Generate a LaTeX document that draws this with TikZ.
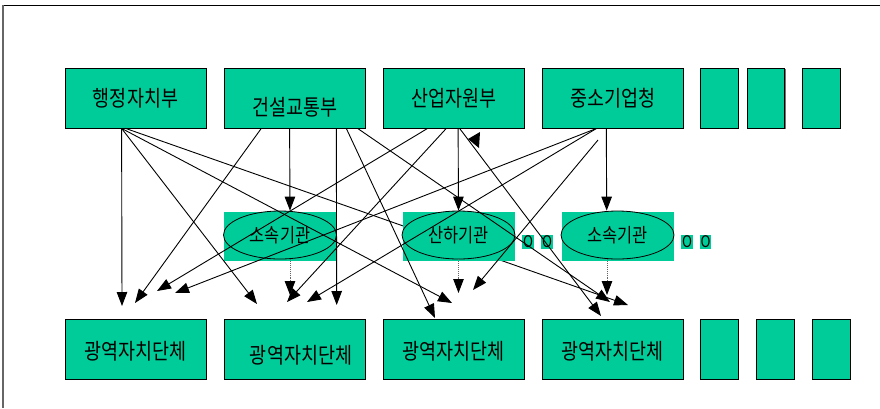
\documentclass[tikz,border=0pt]{standalone}
\usepackage{fontspec}
\setmainfont{Noto Sans CJK KR}[FakeStretch=0.84]
\usetikzlibrary{arrows.meta,shapes.geometric,shadows}

\definecolor{mint}{RGB}{0,204,153}

\tikzset{
  dept/.style={draw=black, fill=mint, line width=0.8pt, minimum width=141pt,
    minimum height=60pt, inner sep=0pt,
    drop shadow={shadow xshift=1pt, shadow yshift=-1.2pt, fill=black!55, opacity=1}},
  blank/.style={dept, minimum width=37.5pt},
  agency/.style={ellipse, draw=black, fill=mint, line width=0.8pt,
    minimum width=113pt, minimum height=48pt, inner sep=0pt,
    font=\fontsize{19.5}{21}\selectfont},
  etc/.style={fill=mint, inner xsep=0.8pt, inner ysep=1.2pt,
    font=\fontsize{16}{16}\selectfont},
  link/.style={-{Triangle[length=14pt,width=10.5pt]}, line width=0.9pt},
  weak/.style={-{Triangle[length=14pt,width=10.5pt,color=black]}, line width=0.9pt,
    densely dotted, draw=black!60}
}

\begin{document}
\begin{tikzpicture}[x=1pt, y=-1pt, font=\fontsize{22}{24}\selectfont]
    \useasboundingbox (0,0) rectangle (880,408);

    % 테두리
    \draw[line width=1.8pt] (2,5.5) -- (880,5.5);
    \draw[black!60, line width=1.6pt] (3,5) -- (3,408);

    % 중앙부처
    \node[dept] (haengjeong) at (135.5,98) {행정자치부};
    \node[dept, label={[yshift=-9pt]center:건설교통부}] (geonseol) at (294.5,98) {};
    \node[dept] (saneop) at (453.5,98) {산업자원부};
    \node[dept] (jungso) at (612.5,98) {중소기업청};
    \foreach \x [count=\i] in {719.5,766,821.5}
        \node[blank] (top\i) at (\x,98) {};

    % 광역자치단체
    \foreach \x/\dx/\dy [count=\i] in {135.5/0/-2, 294.5/6.5/-6, 453.5/0/-2, 612.5/0/-2}
        \node[dept, label={[xshift=\dx pt, yshift=\dy pt]center:광역자치단체}] (gwang\i) at (\x,349) {};
    \foreach \x [count=\i] in {719.3,775.5,831.6}
        \node[blank] (bottom\i) at (\x,349) {};

    % 화살표 끝점
    \coordinate (c1a) at (122,306);
    \coordinate (c1b) at (135,303);
    \coordinate (c1c) at (157,291);
    \coordinate (c1d) at (175,293);
    \coordinate (c2a) at (257,304);
    \coordinate (c2b) at (287,302);
    \coordinate (c2c) at (307,302);
    \coordinate (c2d) at (336.7,305);
    \coordinate (c2s) at (290,295);
    \coordinate (c3a) at (435,318);
    \coordinate (c3b) at (452,303);
    \coordinate (c3c) at (473,290);
    \coordinate (c3s) at (458.5,293);
    \coordinate (c4a) at (601,316);
    \coordinate (c4b) at (610,302);
    \coordinate (c4c) at (628,305);
    \coordinate (c4s) at (607,295);
    \coordinate (q0) at (598,140);

    % 산하기관 뒤로 지나가는 선
    \draw[link] ([xshift=61pt]haengjeong.south west) -- (c4c);

    % 소속기관 / 산하기관
    \foreach \x/\name/\txt in {280/sosok1/소속기관, 458.5/sanha/산하기관, 617.5/sosok2/소속기관} {
        \fill[mint] (\x-56,212) rectangle (\x+56,261);
        \node[agency] (\name) at (\x,235) {\txt};
    }
    \foreach \x [count=\i] in {528,547,687,705.5}
        \node[etc] (etc\i) at (\x,242) {O};

    % 행정자치부
    \draw[link] ([xshift=57pt]haengjeong.south west) -- (c1a);
    \draw[link] ([xshift=57pt]haengjeong.south west) -- (c2a);
    \draw[link] ([xshift=57pt]haengjeong.south west) -- (c3b);

    % 건설교통부
    \draw[link] ([xshift=37.7pt]geonseol.south west) -- (c1b);
    \draw[link] ([xshift=66pt]geonseol.south west) -- ([xshift=10pt]sosok1.north);
    \draw[link] ([xshift=112.7pt]geonseol.south west) -- (c2d);
    \draw[link] ([xshift=122.7pt]geonseol.south west) -- (c3a);
    \draw[link] ([xshift=134pt]geonseol.south west) -- (c4b);

    % 산업자원부
    \draw[link] ([xshift=45pt]saneop.south west) -- (c1c);
    \draw[link] ([xshift=63.7pt]saneop.south west) -- (c2b);
    \draw[link] ([xshift=75.5pt]saneop.south west) -- (sanha.north);
    \draw[link] ([xshift=77pt]saneop.south west) -- (c4a);
    \fill (468,139) -- (480,132) -- (479,148) -- cycle;

    % 중소기업청
    \draw[link] ([xshift=55pt]jungso.south west) -- (c1d);
    \draw[link] ([xshift=55pt]jungso.south west) -- (c2c);
    \draw[link] ([xshift=64.7pt]jungso.south west) -- ([xshift=-10.8pt]sosok2.north);
    \draw[link] (q0) -- (c3c);

    % 기관에서 내려가는 점선
    \draw[weak] ([xshift=10pt]sosok1.south) -- (c2s);
    \draw[weak] (sanha.south) -- (c3s);
    \draw[weak] ([xshift=-10.5pt]sosok2.south) -- (c4s);
\end{tikzpicture}
\end{document}
